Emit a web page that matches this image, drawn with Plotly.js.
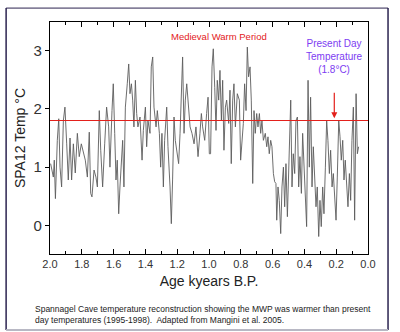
<!DOCTYPE html>
<html><head><meta charset="utf-8">
<script src="https://cdn.plot.ly/plotly-3.0.1.min.js"></script>
<style>html,body{margin:0;padding:0;background:#fff;}#chart{width:400px;height:332px;}</style>
</head><body><div id="chart"></div>
<script>
// Age (kyears B.P.)
const age = [1.996,1.979,1.973,1.966,1.954,1.945,1.937,1.927,1.916,1.906,1.895,1.885,1.874,1.864,1.853,1.841,1.828,1.816,1.803,1.790,
1.778,1.765,1.753,1.744,1.736,1.723,1.711,1.702,1.690,1.681,1.669,1.656,1.644,1.631,1.623,1.610,1.602,1.593,1.585,1.577,
1.568,1.560,1.551,1.543,1.535,1.526,1.514,1.505,1.497,1.488,1.480,1.472,1.463,1.455,1.447,1.434,1.421,1.413,1.400,1.392,
1.384,1.371,1.363,1.354,1.346,1.333,1.325,1.312,1.304,1.296,1.287,1.279,1.266,1.258,1.245,1.237,1.229,1.220,1.212,1.199,
1.191,1.182,1.174,1.166,1.157,1.149,1.140,1.128,1.119,1.107,1.094,1.082,1.069,1.057,1.048,1.040,1.027,1.015,1.006,0.998,
0.990,0.981,0.973,0.964,0.956,0.948,0.939,0.931,0.922,0.914,0.906,0.897,0.889,0.876,0.868,0.860,0.851,0.843,0.834,0.822,
0.809,0.801,0.792,0.784,0.776,0.767,0.759,0.751,0.742,0.734,0.725,0.717,0.709,0.700,0.692,0.683,0.675,0.667,0.658,0.646,
0.637,0.629,0.621,0.612,0.604,0.595,0.587,0.579,0.574,0.566,0.558,0.549,0.541,0.532,0.524,0.516,0.507,0.499,0.486,0.478,
0.470,0.461,0.453,0.444,0.436,0.428,0.419,0.411,0.403,0.394,0.386,0.377,0.369,0.361,0.352,0.344,0.335,0.327,0.319,0.310,
0.302,0.294,0.285,0.277,0.268,0.260,0.252,0.243,0.235,0.226,0.218,0.210,0.201,0.193,0.184,0.176,0.168,0.159,0.151,0.143,
0.134,0.126,0.117,0.109,0.101,0.092,0.084,0.075,0.067,0.059];
// SPA12 temperature (°C)
const temp = [1.06,0.83,1.12,0.46,1.46,1.83,1.00,0.66,1.80,2.03,1.40,0.78,1.50,0.78,1.40,0.90,1.58,1.18,1.40,1.23,
1.12,0.83,1.60,0.55,0.49,0.95,0.83,0.66,1.97,1.29,0.66,1.40,2.03,1.69,1.00,1.97,2.43,1.58,0.78,1.12,
0.20,0.66,1.18,1.46,0.66,2.03,2.43,2.77,2.26,2.43,2.15,1.69,2.49,1.92,1.69,1.86,1.12,1.63,2.03,1.35,
1.80,1.58,2.72,2.89,2.03,1.69,1.97,1.58,1.00,1.58,0.66,1.46,2.03,1.35,0.66,0.03,0.78,1.86,1.46,1.18,
1.06,1.58,2.37,2.89,1.58,2.15,2.43,1.92,1.69,1.58,1.40,1.69,1.18,1.58,1.92,1.69,1.46,1.92,2.20,1.23,
1.23,2.72,3.03,2.37,1.63,2.49,2.15,2.66,1.80,2.49,1.29,2.03,2.15,1.75,2.32,1.06,2.15,2.43,1.69,2.26,
2.15,1.12,1.40,1.75,2.43,1.97,3.06,2.55,2.72,2.15,0.72,1.97,1.58,1.92,1.69,1.92,1.58,1.80,1.46,1.58,
1.35,1.52,1.23,1.46,1.35,0.89,0.75,0.72,0.09,0.66,0.43,-0.14,0.66,1.00,0.32,1.06,0.15,0.89,2.15,0.66,
1.23,0.89,1.80,1.86,0.66,1.18,0.55,1.58,1.00,0.32,-0.02,2.49,1.00,2.20,0.66,1.35,0.89,0.32,0.66,-0.19,
0.43,-0.02,0.66,0.20,1.00,1.80,1.46,0.89,1.29,0.66,0.89,0.43,0.09,0.83,1.80,1.52,1.12,1.46,0.78,1.12,
0.66,0.32,0.89,0.43,1.46,2.03,0.09,2.26,1.23,1.35];
const presentDay = 1.8;
const xTicks = [2.0,1.8,1.6,1.4,1.2,1.0,0.8,0.6,0.4,0.2,0.0];
const yTicks = [0,1,2,3];

const font = "Liberation Sans, Arial, sans-serif";
const data = [
  {x: age, y: temp, type: "scatter", mode: "lines", line: {color: "#5c5c5c", width: 0.9}, hoverinfo: "skip"},
  {x: [2.0, 0.0], y: [presentDay, presentDay], type: "scatter", mode: "lines", line: {color: "#e3201b", width: 1.2}, hoverinfo: "skip"}
];
const layout = {
  width: 400, height: 332,
  margin: {l: 50, r: 32, t: 22, b: 78},
  paper_bgcolor: "#fff", plot_bgcolor: "#fff",
  showlegend: false,
  font: {family: font, color: "#222"},
  xaxis: {
    range: [2.0, 0.0], tickvals: xTicks, ticktext: xTicks.map(v => v.toFixed(1)),
    ticks: "inside", ticklen: 5, tickwidth: 1, tickcolor: "#000",
    minor: {dtick: 0.1, ticks: "inside", ticklen: 3, tickcolor: "#000"},
    showline: true, linecolor: "#000", linewidth: 1.2, mirror: "allticks",
    showgrid: false, zeroline: false,
    tickfont: {size: 11, color: "#333"},
    title: {text: "Age kyears B.P.", font: {size: 14, color: "#222"}, standoff: 6}
  },
  yaxis: {
    range: [-0.49, 3.49], tickvals: yTicks,
    ticks: "outside", ticklen: 4, tickwidth: 1, tickcolor: "#000",
    showline: true, linecolor: "#000", linewidth: 1.2, mirror: true,
    showgrid: false, zeroline: false,
    tickfont: {size: 15, color: "#333"},
    title: {text: "SPA12 Temp °C", font: {size: 14, color: "#222"}, standoff: 4}
  },
  annotations: [
    {x: 0.937, y: 3.24, xref: "x", yref: "y", text: "Medieval Warm Period", showarrow: false,
     font: {size: 9.5, color: "#e3201b", family: font}},
    {x: 0.208, y: 2.55, xref: "x", yref: "y", text: "Present Day<br>Temperature<br>(1.8°C)", showarrow: false,
     yanchor: "bottom", font: {size: 10, color: "#7d3cf2", family: font}},
    {x: 0.212, y: 1.84, ax: 0.212, ay: 2.3, axref: "x", ayref: "y", xref: "x", yref: "y", text: "", showarrow: true,
     arrowhead: 2, arrowsize: 1, arrowwidth: 1.2, arrowcolor: "#e3201b"},
    {x: -0.053, y: -0.26, xref: "paper", yref: "paper", xanchor: "left", yanchor: "middle", align: "left",
     text: "Spannagel Cave temperature reconstruction showing the MWP was warmer than present<br>day temperatures (1995-1998).  Adapted from Mangini et al. 2005.",
     showarrow: false, font: {size: 8.5, color: "#222", family: font}}
  ],
  shapes: [
    {type: "line", xref: "paper", yref: "paper", x0: -0.138, x1: -0.138, y0: -0.328, y1: 1.06, line: {color: "#2b2350", width: 1.5}},
    {type: "line", xref: "paper", yref: "paper", x0: 1.063, x1: 1.063, y0: -0.328, y1: 1.06, line: {color: "#2b2350", width: 1.5}},
    {type: "line", xref: "paper", yref: "paper", x0: -0.138, x1: 1.063, y0: 1.06, y1: 1.06, line: {color: "#2b2350", width: 1}},
    {type: "line", xref: "paper", yref: "paper", x0: -0.138, x1: 1.063, y0: -0.328, y1: -0.328, line: {color: "#b8b8c4", width: 2}}
  ]
};
Plotly.newPlot("chart", data, layout, {staticPlot: true, displayModeBar: false});
</script></body></html>
